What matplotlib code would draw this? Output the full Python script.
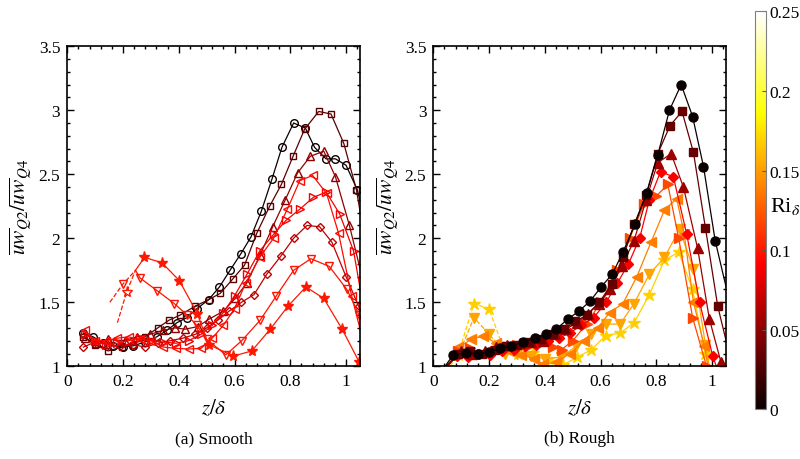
import matplotlib.pyplot as plt
import matplotlib as mpl
from matplotlib.ticker import MultipleLocator, FixedLocator

plt.rcParams['font.family'] = ['Liberation Serif', 'DejaVu Serif']
plt.rcParams['mathtext.fontset'] = 'stix'

RI_MAX = 0.25

# ---------------- (a) smooth wall, open markers ----------------
s_circ_x = [0.057, 0.093, 0.129, 0.165, 0.201, 0.237, 0.279, 0.321, 0.357, 0.393, 0.429, 0.465, 0.507,
            0.546, 0.584, 0.623, 0.659, 0.696, 0.734, 0.770, 0.812, 0.854, 0.887, 0.928, 0.962, 1.0, 1.04, 1.055]
s_circ_y = [1.26, 1.23, 1.18, 1.16, 1.15, 1.16, 1.19, 1.23, 1.28, 1.34, 1.38, 1.45, 1.52,
            1.62, 1.75, 1.88, 2.01, 2.21, 2.46, 2.71, 2.90, 2.86, 2.71, 2.62, 2.62, 2.57, 2.38, 2.25]

s_sq_x = [0.057, 0.099, 0.147, 0.195, 0.237, 0.279, 0.325, 0.365, 0.405, 0.459, 0.507, 0.549, 0.593,
          0.636, 0.68, 0.726, 0.768, 0.81, 0.851, 0.902, 0.946, 0.992, 1.037, 1.055]
s_sq_y = [1.23, 1.17, 1.12, 1.15, 1.17, 1.23, 1.30, 1.36, 1.40, 1.47, 1.52, 1.57, 1.68,
          1.79, 2.04, 2.25, 2.42, 2.64, 2.85, 2.99, 2.97, 2.74, 2.38, 2.15]

s_tup_x = [0.063, 0.105, 0.147, 0.207, 0.249, 0.297, 0.345, 0.385, 0.423, 0.468, 0.51, 0.56, 0.602,
           0.644, 0.692, 0.737, 0.782, 0.826, 0.872, 0.92, 0.962, 1.012, 1.055]
s_tup_y = [1.22, 1.18, 1.21, 1.20, 1.23, 1.25, 1.28, 1.30, 1.29, 1.31, 1.37, 1.43, 1.53,
           1.65, 1.87, 2.09, 2.30, 2.51, 2.64, 2.68, 2.48, 2.10, 1.72]

s_tleft_x = [0.063, 0.1, 0.14, 0.18, 0.22, 0.26, 0.3, 0.345, 0.39, 0.435, 0.48, 0.52, 0.56,
             0.6, 0.64, 0.69, 0.74, 0.79, 0.834, 0.88, 0.93, 0.973, 1.02, 1.055]
s_tleft_y = [1.28, 1.20, 1.20, 1.22, 1.23, 1.21, 1.20, 1.15, 1.14, 1.135, 1.14, 1.22, 1.32,
             1.45, 1.65, 1.85, 2.0, 2.23, 2.45, 2.49, 2.35, 2.04, 1.55, 1.25]

s_tright_x = [0.063, 0.1, 0.14, 0.18, 0.22, 0.26, 0.3, 0.345, 0.39, 0.435, 0.48, 0.52, 0.56,
              0.6, 0.645, 0.69, 0.74, 0.785, 0.836, 0.883, 0.929, 0.977, 1.027, 1.055]
s_tright_y = [1.25, 1.20, 1.17, 1.18, 1.20, 1.22, 1.20, 1.19, 1.18, 1.20, 1.25, 1.32, 1.42,
              1.55, 1.72, 1.90, 2.03, 2.14, 2.23, 2.32, 2.36, 2.19, 1.90, 1.55]

s_dia_x = [0.058, 0.1, 0.145, 0.19, 0.235, 0.28, 0.325, 0.37, 0.415, 0.46, 0.5, 0.54, 0.58,
           0.625, 0.67, 0.716, 0.766, 0.812, 0.86, 0.905, 0.949, 1.0, 1.045, 1.055]
s_dia_y = [1.15, 1.19, 1.17, 1.16, 1.17, 1.15, 1.18, 1.20, 1.22, 1.25, 1.30, 1.36, 1.43,
           1.50, 1.56, 1.72, 1.86, 2.00, 2.10, 2.09, 1.97, 1.70, 1.47, 1.40]

s_tdown_dash_x = [0.153, 0.199, 0.245]
s_tdown_dash_y = [1.50, 1.64, 1.75]
s_tdown_x = [0.245, 0.261, 0.323, 0.384, 0.43, 0.465, 0.5, 0.569, 0.626, 0.692, 0.75, 0.812, 0.874,
             0.94, 1.003, 1.047]
s_tdown_y = [1.75, 1.69, 1.59, 1.49, 1.40, 1.32, 1.21, 1.09, 1.20, 1.36, 1.55, 1.75, 1.84,
             1.78, 1.60, 1.40]

s_star_dash_x = [0.18, 0.213, 0.245]
s_star_dash_y = [1.34, 1.58, 1.75]
s_star_x = [0.245, 0.277, 0.339, 0.402, 0.467, 0.507, 0.596, 0.662, 0.728, 0.792, 0.856, 0.92, 0.986, 1.048]
s_star_y = [1.75, 1.85, 1.81, 1.67, 1.41, 1.17, 1.08, 1.12, 1.29, 1.47, 1.62, 1.53, 1.29, 1.03]

smooth_ri = {'circ': 0.0, 'sq': 0.03, 'tup': 0.05, 'dia': 0.068,
             'tright': 0.088, 'tleft': 0.095, 'tdown': 0.098, 'star': 0.1}

# ---------------- (b) rough wall, filled markers ----------------
r_circ_x = [0.042, 0.072, 0.119, 0.16, 0.2, 0.24, 0.28, 0.322, 0.364, 0.405, 0.441, 0.483, 0.522, 0.563,
            0.602, 0.642, 0.68, 0.723, 0.765, 0.805, 0.847, 0.889, 0.93, 0.969, 1.011, 1.05]
r_circ_y = [1.0, 1.09, 1.105, 1.10, 1.11, 1.14, 1.16, 1.19, 1.22, 1.25, 1.29, 1.37, 1.43, 1.51,
            1.62, 1.72, 1.89, 2.11, 2.35, 2.65, 3.0, 3.2, 2.95, 2.56, 1.98, 1.62]

r_sq_x = [0.045, 0.09, 0.13, 0.175, 0.22, 0.26, 0.3, 0.345, 0.385, 0.43, 0.47, 0.51, 0.55, 0.595,
          0.641, 0.68, 0.721, 0.763, 0.805, 0.849, 0.892, 0.933, 0.976, 1.02, 1.05]
r_sq_y = [1.0, 1.10, 1.12, 1.10, 1.13, 1.16, 1.17, 1.19, 1.21, 1.25, 1.29, 1.35, 1.40, 1.50,
          1.64, 1.85, 2.11, 2.34, 2.66, 2.88, 2.99, 2.67, 2.08, 1.47, 1.2]

r_tup_x = [0.05, 0.1, 0.14, 0.185, 0.225, 0.265, 0.31, 0.35, 0.395, 0.435, 0.475, 0.515, 0.555, 0.595,
           0.635, 0.675, 0.72, 0.763, 0.805, 0.853, 0.897, 0.948, 0.99, 1.032, 1.05]
r_tup_y = [1.0, 1.12, 1.10, 1.12, 1.15, 1.17, 1.18, 1.19, 1.20, 1.25, 1.29, 1.34, 1.41, 1.49,
           1.60, 1.78, 1.98, 2.30, 2.59, 2.66, 2.40, 1.92, 1.37, 1.03, 0.98]

r_dia_x = [0.05, 0.085, 0.125, 0.165, 0.205, 0.245, 0.29, 0.33, 0.37, 0.41, 0.45, 0.49, 0.53, 0.575,
           0.62, 0.66, 0.7, 0.74, 0.775, 0.815, 0.861, 0.909, 0.955, 1.002, 1.015]
r_dia_y = [1.0, 1.08, 1.07, 1.10, 1.09, 1.12, 1.13, 1.16, 1.17, 1.20, 1.22, 1.26, 1.32, 1.38,
           1.50, 1.65, 1.80, 2.00, 2.30, 2.52, 2.48, 2.03, 1.50, 1.08, 1.0]

r_tright_x = [0.05, 0.09, 0.13, 0.175, 0.22, 0.26, 0.3, 0.345, 0.39, 0.43, 0.46, 0.5, 0.55, 0.6,
              0.66, 0.704, 0.757, 0.8, 0.841, 0.88, 0.93, 0.98]
r_tright_y = [1.0, 1.12, 1.14, 1.10, 1.12, 1.14, 1.17, 1.16, 1.18, 1.15, 1.13, 1.20, 1.33, 1.50,
              1.75, 2.00, 2.27, 2.33, 2.42, 2.00, 1.38, 1.0]

r_tleft_x = [0.055, 0.09, 0.137, 0.18, 0.225, 0.27, 0.315, 0.36, 0.394, 0.44, 0.49, 0.54, 0.59, 0.632,
             0.68, 0.73, 0.781, 0.829, 0.873, 0.9, 0.933, 0.972, 0.985]
r_tleft_y = [1.0, 1.15, 1.21, 1.24, 1.18, 1.12, 1.09, 1.06, 1.02, 1.03, 1.10, 1.20, 1.30, 1.42,
             1.49, 1.70, 1.97, 2.22, 2.31, 2.03, 1.50, 1.16, 1.0]

r_tdown_dash_x = [0.05, 0.1, 0.146, 0.2, 0.245]
r_tdown_dash_y = [1.0, 1.14, 1.38, 1.25, 1.14]
r_tdown_x = [0.245, 0.256, 0.3, 0.35, 0.4, 0.459, 0.513, 0.565, 0.62, 0.67, 0.72, 0.775, 0.829, 0.883,
             0.933, 0.976, 0.99]
r_tdown_y = [1.14, 1.10, 1.10, 1.08, 1.06, 1.07, 1.16, 1.25, 1.33, 1.33, 1.49, 1.72, 1.85, 2.07,
             1.76, 1.17, 1.0]

r_star_dash_x = [0.06, 0.089, 0.146, 0.2, 0.25]
r_star_dash_y = [1.0, 1.09, 1.49, 1.45, 1.15]
r_star_x = [0.25, 0.304, 0.358, 0.41, 0.465, 0.515, 0.567, 0.618, 0.67, 0.72, 0.775, 0.829, 0.88,
            0.93, 0.975, 0.99]
r_star_y = [1.15, 1.10, 1.105, 1.06, 1.01, 1.07, 1.13, 1.24, 1.26, 1.34, 1.56, 1.83, 1.89,
            1.60, 1.10, 1.0]

rough_ri = {'circ': 0.0, 'sq': 0.035, 'tup': 0.055, 'dia': 0.09,
            'tright': 0.118, 'tleft': 0.138, 'tdown': 0.153, 'star': 0.168}


def col(ri):
    return plt.cm.hot(ri / RI_MAX)


def draw(ax, x, y, marker, ri, filled, ms, ls='-', mk=None):
    c = col(ri)
    ax.plot(x, y, ls=ls, color=c, lw=0.9, marker=marker, ms=ms,
            mfc=c if filled else 'none', mec=c, mew=1.0,
            markevery=mk, clip_on=True)


fig = plt.figure(figsize=(8, 4.6), dpi=100)
axa = fig.add_axes([0.084, 0.2015, 0.366, 0.696])
axb = fig.add_axes([0.5416, 0.2015, 0.366, 0.696])

# smooth
draw(axa, s_circ_x, s_circ_y, 'o', smooth_ri['circ'], False, 5.5, mk=slice(0, -1))
draw(axa, s_sq_x, s_sq_y, 's', smooth_ri['sq'], False, 5, mk=slice(0, -1))
draw(axa, s_tup_x, s_tup_y, '^', smooth_ri['tup'], False, 6, mk=slice(0, -1))
draw(axa, s_dia_x, s_dia_y, 'D', smooth_ri['dia'], False, 4.5, mk=slice(0, -1))
draw(axa, s_tright_x, s_tright_y, '>', smooth_ri['tright'], False, 6, mk=slice(0, -1))
draw(axa, s_tleft_x, s_tleft_y, '<', smooth_ri['tleft'], False, 6, mk=slice(0, -1))
draw(axa, s_tdown_dash_x, s_tdown_dash_y, 'v', smooth_ri['tdown'], False, 6, ls='--', mk=[1])
draw(axa, s_tdown_x, s_tdown_y, 'v', smooth_ri['tdown'], False, 6, mk=slice(1, None))
draw(axa, s_star_dash_x, s_star_dash_y, '*', smooth_ri['star'], False, 8, ls='--', mk=[1])
draw(axa, s_star_x, s_star_y, '*', smooth_ri['star'], True, 8, mk=slice(1, None))

# rough
draw(axb, r_star_dash_x, r_star_dash_y, '*', rough_ri['star'], True, 9, ls='--', mk=[1, 2, 3])
draw(axb, r_star_x, r_star_y, '*', rough_ri['star'], True, 9, mk=slice(0, -1))
draw(axb, r_tdown_dash_x, r_tdown_dash_y, 'v', rough_ri['tdown'], True, 7, ls='--', mk=[2, 3])
draw(axb, r_tdown_x, r_tdown_y, 'v', rough_ri['tdown'], True, 7, mk=slice(1, -1))
draw(axb, r_tleft_x, r_tleft_y, '<', rough_ri['tleft'], True, 7, mk=slice(1, -1))
draw(axb, r_tright_x, r_tright_y, '>', rough_ri['tright'], True, 7, mk=slice(1, None))
draw(axb, r_dia_x, r_dia_y, 'D', rough_ri['dia'], True, 5.5, mk=slice(1, -1))
draw(axb, r_tup_x, r_tup_y, '^', rough_ri['tup'], True, 7, mk=slice(1, -1))
draw(axb, r_sq_x, r_sq_y, 's', rough_ri['sq'], True, 6, mk=slice(1, -1))
draw(axb, r_circ_x, r_circ_y, 'o', rough_ri['circ'], True, 6.5, mk=slice(1, -1))

ylab = r'$\overline{uw}_{Q2}/\overline{uw}_{Q4}$'
for ax, cap in ((axa, '(a) Smooth'), (axb, '(b) Rough')):
    ax.set_xlim(0, 1.05)
    ax.set_ylim(1, 3.5)
    ax.xaxis.set_major_locator(FixedLocator([0, 0.2, 0.4, 0.6, 0.8, 1.0]))
    ax.xaxis.set_minor_locator(MultipleLocator(0.04))
    ax.yaxis.set_major_locator(MultipleLocator(0.5))
    ax.yaxis.set_minor_locator(MultipleLocator(0.1))
    ax.set_xticklabels(['0', '0.2', '0.4', '0.6', '0.8', '1'])
    ax.set_yticks([1, 1.5, 2, 2.5, 3, 3.5])
    ax.set_yticklabels(['1', '1.5', '2', '2.5', '3', '3.5'])
    ax.tick_params(which='both', direction='in', top=True, right=True, labelsize=12.5, width=1.0)
    ax.tick_params(which='major', length=5, pad=5)
    ax.tick_params(which='minor', length=2.5)
    for sp in ax.spines.values():
        sp.set_linewidth(1.2)
    ax.set_xlabel(r'$z/\delta$', fontsize=15, labelpad=6)
    ax.set_ylabel(ylab, fontsize=15.5, labelpad=3)
    ax.text(0.5, -0.225, cap, transform=ax.transAxes, ha='center', va='center', fontsize=12.5)

cax = fig.add_axes([0.944, 0.108, 0.014, 0.865])
sm = mpl.cm.ScalarMappable(norm=mpl.colors.Normalize(0, RI_MAX), cmap='hot')
cb = fig.colorbar(sm, cax=cax, ticks=[0, 0.05, 0.1, 0.15, 0.2, 0.25])
cb.ax.set_yticklabels(['0', '0.05', '0.1', '0.15', '0.2', '0.25'])
cb.ax.tick_params(direction='in', length=3, width=0.8, color='0.35', labelsize=12.5, pad=2)
cb.outline.set_edgecolor('0.5')
cb.outline.set_linewidth(0.8)
fig.text(0.963, 0.55, r'Ri$_{\delta}$', fontsize=16, ha='left', va='center')

fig.savefig('out.png', dpi=100)
